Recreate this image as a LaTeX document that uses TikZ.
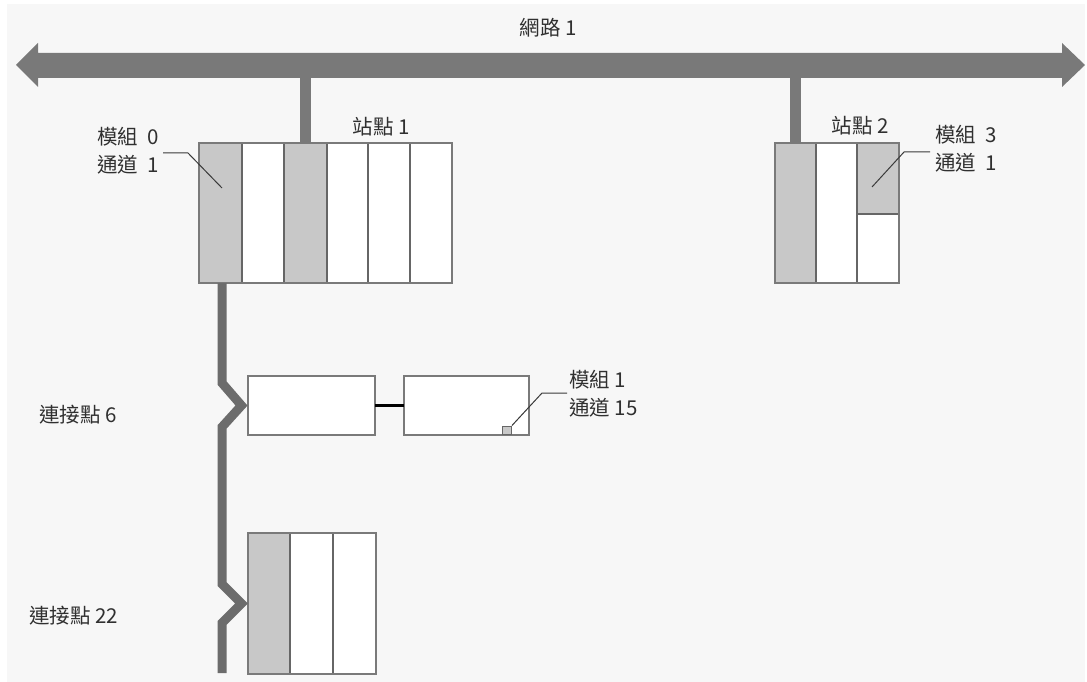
\documentclass[tikz,border=0pt]{standalone}
\usepackage{fontspec}
\usetikzlibrary{calc}
\newfontfamily\cjk{Noto Sans CJK TC}
\definecolor{bgc}{HTML}{F7F7F7}
\definecolor{barc}{HTML}{797979}
\definecolor{busc}{HTML}{6C6C6C}
\definecolor{slotg}{HTML}{C8C8C8}
\definecolor{edgec}{HTML}{7A7A7A}
\definecolor{divc}{HTML}{666666}
\definecolor{txtc}{HTML}{303030}
\definecolor{leadc}{HTML}{3A3A3A}
\begin{document}
\begin{tikzpicture}[x=1pt,y=-1pt,
  box/.style={draw=edgec, fill=white, line width=1.3pt, inner sep=0pt, outer sep=0pt, anchor=north west},
  gslot/.style={fill=slotg, draw=divc, line width=1.1pt},
  divider/.style={draw=divc, line width=1.1pt},
  drop/.style={draw=barc, line width=11pt, line cap=butt},
  bus/.style={draw=busc, line width=9pt, line cap=butt, line join=miter},
  leader/.style={draw=leadc, line width=1pt},
  lbl/.style={font=\cjk\fontsize{20.5}{28}\selectfont, text=txtc, inner sep=0pt, align=left},
  link/.style={draw=black, line width=3pt}]
\useasboundingbox (0,0) rectangle (1087,682);
\fill[bgc] (7,4) rectangle (1085,682);

% network bar
\fill[barc] (16,65) -- (38,43) -- (38,53) -- (1062,53) -- (1062,43) -- (1085,65)
  -- (1062,87) -- (1062,78) -- (38,78) -- (38,87) -- cycle;
\node[lbl, anchor=center] (net) at (548,28) {網路 1};
\coordinate (tap1) at (305,66);
\coordinate (tap2) at (795,66);

% station 1
\node[box, minimum width=253, minimum height=140] (st1) at (199,143) {};
\filldraw[gslot] (199,143) rectangle (242,283);
\filldraw[gslot] (284,143) rectangle (327,283);
\draw[divider] (368,143) -- (368,283) (410,143) -- (410,283);
\node[box, fill=none, minimum width=253, minimum height=140] at (199,143) {};
\draw[drop] (tap1) -- (tap1 |- st1.north);
\node[lbl, anchor=center] (st1l) at (381,127) {站點 1};

% station 2
\node[box, minimum width=124, minimum height=140] (st2) at (775,143) {};
\filldraw[gslot] (775,143) rectangle (816,283);
\filldraw[gslot] (857,143) rectangle (899,214);
\draw[divider] (857,143) -- (857,283);
\node[box, fill=none, minimum width=124, minimum height=140] at (775,143) {};
\draw[drop] (tap2) -- (tap2 |- st2.north);
\node[lbl, anchor=center] (st2l) at (860,126) {站點 2};

% labels with leaders (top)
\node[lbl, anchor=west] (l0) at (97,151) {模組\ \ 0\\通道\ \ 1};
\coordinate (l0a) at (163,153);
\coordinate (l0b) at (188,153);
\coordinate (l0c) at (222,188);
\draw[leader] (l0a) -- (l0b) -- (l0c);

\node[lbl, anchor=west] (l3) at (935,149) {模組\ \ 3\\通道\ \ 1};
\coordinate (l3a) at (930,152);
\coordinate (l3b) at (904,152);
\coordinate (l3c) at (872,187);
\draw[leader] (l3a) -- (l3b) -- (l3c);

% connection point 6
\node[box, minimum width=127, minimum height=59] (m6a) at (248,376) {};
\node[box, minimum width=125, minimum height=59] (m6b) at (404,376) {};
\draw[link] (m6a.east) -- (m6b.west);
\node[fill=slotg, draw=divc, line width=0.8pt, minimum width=9, minimum height=8, inner sep=0pt] (sq) at (507,430) {};
\node[lbl, anchor=west] (l1) at (569,394) {模組 1\\通道 15};
\coordinate (l1a) at (567,393);
\coordinate (l1b) at (542,393);
\draw[leader] (l1a) -- (l1b) -- (sq.north east);
\node[lbl, anchor=west] (cp6) at (39,415) {連接點 6};

% connection point 22
\node[box, minimum width=128, minimum height=141] (m22) at (248,533) {};
\filldraw[gslot] (248,533) rectangle (290,674);
\draw[divider] (333,533) -- (333,674);
\node[box, fill=none, minimum width=128, minimum height=141] at (248,533) {};
\node[lbl, anchor=west] (cp22) at (29,616) {連接點 22};

% device bus
\coordinate (busTop) at ($(st1.south west)+(23,0)$);
\coordinate (z6a) at (222,383);
\coordinate (z6t) at ([xshift=-6.5pt]m6a.west);
\coordinate (z6b) at (222,427);
\coordinate (z22a) at (222,584);
\coordinate (z22t) at ([xshift=-6.5pt]m22.west);
\coordinate (z22b) at (222,623);
\coordinate (busEnd) at (222,673);
\draw[bus] (busTop) -- (z6a) -- (z6t) -- (z6b) -- (z22a) -- (z22t) -- (z22b) -- (busEnd);
\end{tikzpicture}
\end{document}
